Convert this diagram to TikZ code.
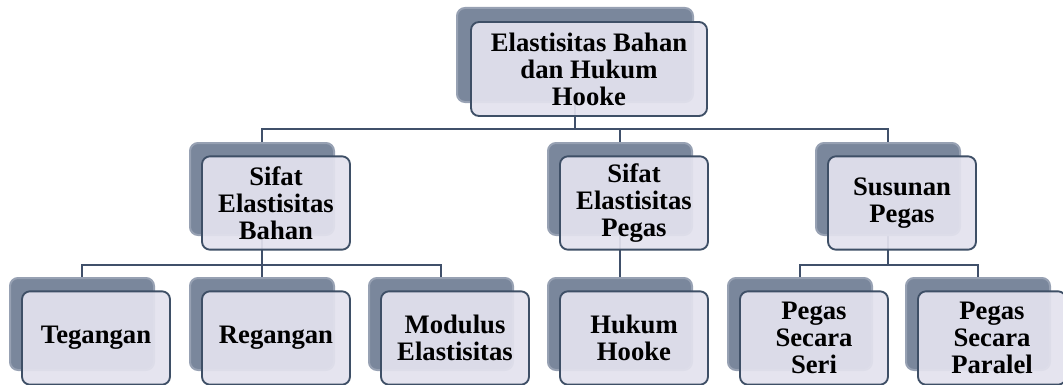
\documentclass[tikz,border=0pt]{standalone}
\usepackage{fontspec}
\setmainfont{Liberation Serif}
\usepackage{tikz}
\usetikzlibrary{backgrounds}
\definecolor{boxline}{HTML}{3E4F66}
\definecolor{boxfill}{HTML}{E3E2EE}
\definecolor{stackfill}{HTML}{7A879C}
\definecolor{stackedge}{HTML}{97A1B3}
\definecolor{connline}{HTML}{40506A}

\begin{document}
\begin{tikzpicture}[
  x=0.75pt, y=-0.75pt,
  back/.style={rounded corners=6pt, fill=stackfill, draw=stackedge, line width=1.5pt, minimum width=108pt, minimum height=69pt, inner sep=0pt},
  front/.style={rounded corners=6pt, fill=boxfill, fill opacity=0.93, text opacity=1, draw=boxline, line width=1.4pt, minimum width=111pt, minimum height=70pt, inner sep=2pt, align=center, font=\bfseries\fontsize{20}{20.3}\selectfont},
  wide/.style={minimum width=177pt, minimum height=70.5pt},
  conn/.style={draw=connline, line width=2.1pt},
]
  \useasboundingbox (0,0) rectangle (1063,385);
  % top
  \node[back, wide] (root) at (575,55) {};
  \node[front, wide] (rootf) at (589,69) {Elastisitas Bahan\\dan Hukum\\Hooke};
  % second row
  \node[back] (seb) at (262,189) {};
  \node[front] (sebf) at (276,203) {Sifat\\Elastisitas\\Bahan};
  \node[back] (sep) at (620,189) {};
  \node[front] (sepf) at (634,203) {Sifat\\Elastisitas\\Pegas};
  \node[back] (sup) at (888,189) {};
  \node[front] (supf) at (902,203) {Susunan\\Pegas};
  % third row
  \node[back] (teg) at (82,324) {};
  \node[front] (tegf) at (96,338) {Tegangan};
  \node[back] (reg) at (262,324) {};
  \node[front] (regf) at (276,338) {Regangan};
  \node[back] (mod) at (441,324) {};
  \node[front] (modf) at (455,338) {Modulus\\Elastisitas};
  \node[back] (huk) at (620,324) {};
  \node[front] (hukf) at (634,338) {Hukum\\Hooke};
  \node[back] (ser) at (800,324) {};
  \node[front] (serf) at (814,338) {Pegas\\Secara\\Seri};
  \node[back] (par) at (978,324) {};
  \node[front] (parf) at (992,338) {Pegas\\Secara\\Paralel};
  \begin{scope}[on background layer]
    \draw[conn] (root.south) -- ++(0,26) -| (seb.north);
    \draw[conn] (root.south) -- ++(0,26) -| (sep.north);
    \draw[conn] (root.south) -- ++(0,26) -| (sup.north);
    \draw[conn] (seb.south) -- ++(0,29) -| (teg.north);
    \draw[conn] (seb.south) -- (reg.north);
    \draw[conn] (seb.south) -- ++(0,29) -| (mod.north);
    \draw[conn] (sep.south) -- (huk.north);
    \draw[conn] (sup.south) -- ++(0,29) -| (ser.north);
    \draw[conn] (sup.south) -- ++(0,29) -| (par.north);
  \end{scope}
\end{tikzpicture}
\end{document}
